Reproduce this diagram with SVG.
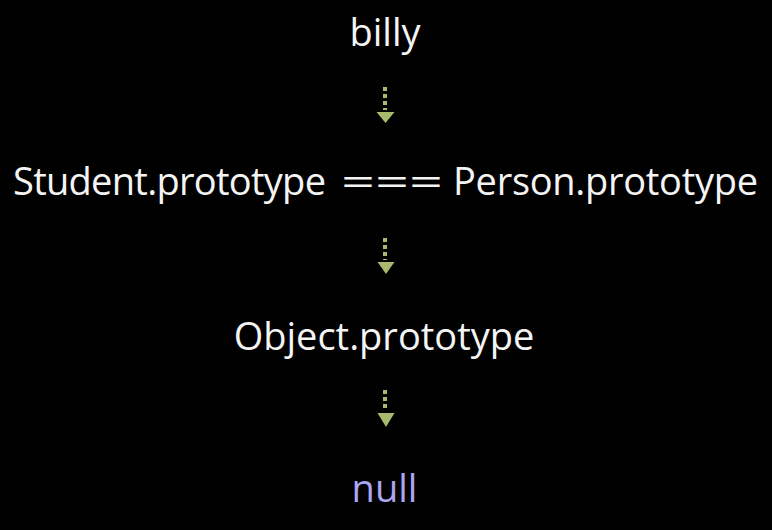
<svg xmlns="http://www.w3.org/2000/svg" width="772" height="530" viewBox="0 0 772 530">
<style>
.t{font-family:"Open Sans","Noto Sans",sans-serif;font-size:38px;fill:#f4f4f4;text-anchor:middle}
.s{text-anchor:start}
.n{fill:#aaa6f2}
.c line{stroke:#a9b96d;stroke-width:4;stroke-dasharray:4 3}
.c path{fill:#a9b96d}
</style>
<rect width="772" height="530" fill="#000"/>
<g id="billy"><text class="t" x="385" y="46">billy</text></g>
<g id="student">
<text class="t s" x="13" y="195" textLength="313" lengthAdjust="spacing">Student.prototype</text>
<text class="t s" x="341" y="195" textLength="102" lengthAdjust="spacingAndGlyphs">===</text>
<text class="t s" x="453" y="195" textLength="305" lengthAdjust="spacing">Person.prototype</text>
</g>
<g id="object"><text class="t" x="384" y="350">Object.prototype</text></g>
<g id="null"><text class="t n" x="384.5" y="502">null</text></g>
<g class="c" id="connectors">
<line x1="385" y1="87" x2="385" y2="110"/><path d="M376.5 112H394.5L385.5 123Z"/>
<line x1="385" y1="238" x2="385" y2="260"/><path d="M377.5 262H394.5L386 274Z"/>
<line x1="385" y1="390" x2="385" y2="411"/><path d="M377.5 413H394.5L386 427Z"/>
</g>
</svg>
